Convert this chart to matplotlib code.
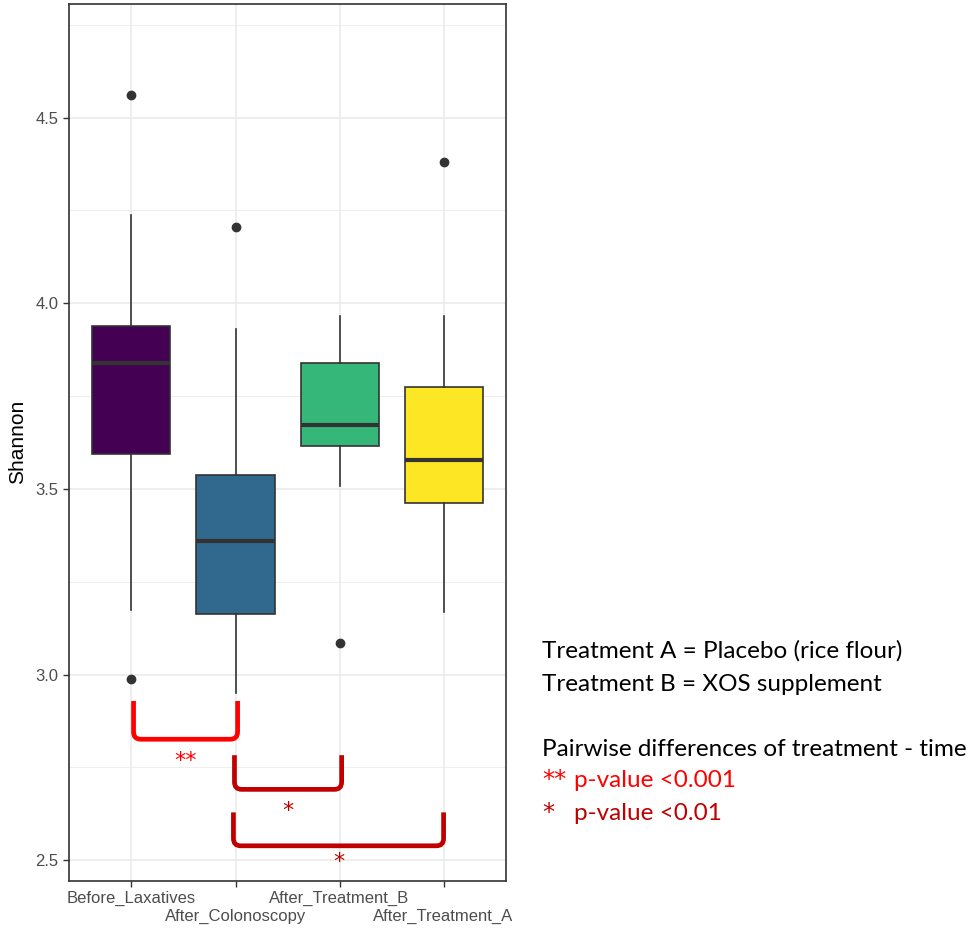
#!/usr/bin/env python3
import matplotlib
matplotlib.use('Agg')
import matplotlib.pyplot as plt
from matplotlib.path import Path
from matplotlib.patches import PathPatch

# Shannon diversity per time point
groups = ['Before_Laxatives', 'After_Colonoscopy', 'After_Treatment_B', 'After_Treatment_A']
colors = ['#440154', '#31688E', '#35B779', '#FDE725']
whislo = [3.174, 2.951, 3.509, 3.169]
q1 = [3.595, 3.162, 3.617, 3.463]
med = [3.838, 3.361, 3.672, 3.578]
q3 = [3.940, 3.538, 3.838, 3.775]
whishi = [4.237, 3.931, 3.965, 3.967]
fliers = [[4.562, 2.988], [4.206], [3.086], [4.380]]

# pairwise comparison brackets: (from, to, top, bottom, label, color)
brackets = [
    (1.02, 2.02, 2.929, 2.826, '**', '#FF0000'),
    (1.99, 3.02, 2.783, 2.691, '*', '#C00000'),
    (1.98, 4.00, 2.629, 2.539, '*', '#C00000'),
]
label_y = [2.779, 2.644, 2.508]

note_lines = ['Treatment A = Placebo (rice flour)', 'Treatment B = XOS supplement']
note_title = 'Pairwise differences of treatment - time'
sig_marks = ['**', '*']
sig_text = ['p-value <0.001', 'p-value <0.01']
sig_colors = ['#FF0000', '#C00000']


def bracket_path(x1, x2, ytop, ybot, rx=0.07, ry=0.02):
    verts = [(x1, ytop), (x1, ybot + ry), (x1, ybot), (x1 + rx, ybot),
             (x2 - rx, ybot), (x2, ybot), (x2, ybot + ry), (x2, ytop)]
    codes = [Path.MOVETO, Path.LINETO, Path.CURVE3, Path.CURVE3,
             Path.LINETO, Path.CURVE3, Path.CURVE3, Path.LINETO]
    return Path(verts, codes)


def main():
    fig = plt.figure(figsize=(9.78, 9.30), dpi=100)
    ax = fig.add_axes([0.0706, 0.0530, 0.4468, 0.9427])

    pos = list(range(1, len(groups) + 1))
    stats = []
    for i, g in enumerate(groups):
        stats.append(dict(label=g, whislo=whislo[i], q1=q1[i], med=med[i],
                          q3=q3[i], whishi=whishi[i], fliers=fliers[i]))
    bp = ax.bxp(stats, positions=pos, widths=0.75, patch_artist=True,
                showcaps=False,
                boxprops=dict(edgecolor='#333333', linewidth=1.2),
                medianprops=dict(color='#333333', linewidth=3),
                whiskerprops=dict(color='#333333', linewidth=1.2),
                flierprops=dict(marker='o', markersize=6, markerfacecolor='#333333',
                                markeredgecolor='#333333'))
    for patch, c in zip(bp['boxes'], colors):
        patch.set_facecolor(c)

    star_fs = 16
    for (x1, x2, yt, yb, lab, c), ly in zip(brackets, label_y):
        ax.add_patch(PathPatch(bracket_path(x1, x2, yt, yb), facecolor='none',
                               edgecolor=c, linewidth=3.4, capstyle='butt', zorder=5))
        ax.annotate(lab, xy=((x1 + x2) / 2, ly), xytext=(0, -0.6 * star_fs + 2),
                    textcoords='offset points', color=c, fontsize=star_fs,
                    family='DejaVu Sans', ha='center', va='baseline', zorder=6)

    ax.set_xlim(0.4, 4.6)
    ax.set_ylim(2.445, 4.806)
    ax.set_yticks([2.5, 3.0, 3.5, 4.0, 4.5])
    ax.set_yticks([2.75, 3.25, 3.75, 4.25, 4.75], minor=True)
    # dodged x labels: odd groups on the first row, even groups on the second
    ax.set_xticks(pos[0::2])
    ax.set_xticklabels(groups[0::2])
    ax.set_xticks(pos[1::2], minor=True)
    ax.set_xticklabels(groups[1::2], minor=True)
    ax.tick_params(axis='both', which='both', labelsize=12, labelcolor='#4D4D4D',
                   color='#333333', length=4, width=1)
    ax.tick_params(axis='x', which='minor', pad=16.5)
    ax.tick_params(axis='y', which='minor', length=0)
    for lab in (ax.get_xticklabels() + ax.get_xticklabels(minor=True)
                + ax.get_yticklabels()):
        lab.set_family('Liberation Sans')
    ax.grid(True, which='major', color='#EBEBEB', linewidth=1.2)
    ax.grid(True, which='minor', axis='x', color='#EBEBEB', linewidth=1.2)
    ax.grid(True, which='minor', axis='y', color='#EBEBEB', linewidth=0.6)
    ax.set_axisbelow(True)
    for s in ax.spines.values():
        s.set_color('#333333')
        s.set_linewidth(1.2)
    ax.set_ylabel('Shannon', fontsize=15, family='Liberation Sans', labelpad=6)

    W, H = 978.0, 930.0
    fs = 17.5
    fig.text(542 / W, 1 - 658 / H, note_lines[0], fontsize=fs, family='Lato', va='baseline')
    fig.text(542 / W, 1 - 691 / H, note_lines[1], fontsize=fs, family='Lato', va='baseline')
    fig.text(542 / W, 1 - 756 / H, note_title, fontsize=fs, family='Lato', va='baseline')
    for i, yb in enumerate([787, 820]):
        fig.text(542 / W, 1 - yb / H, sig_marks[i], fontsize=fs, family='DejaVu Sans',
                 va='baseline', color=sig_colors[i])
        fig.text(574 / W, 1 - yb / H, sig_text[i], fontsize=fs, family='Lato',
                 va='baseline', color=sig_colors[i])

    fig.savefig('out.png', dpi=100)


if __name__ == '__main__':
    main()
